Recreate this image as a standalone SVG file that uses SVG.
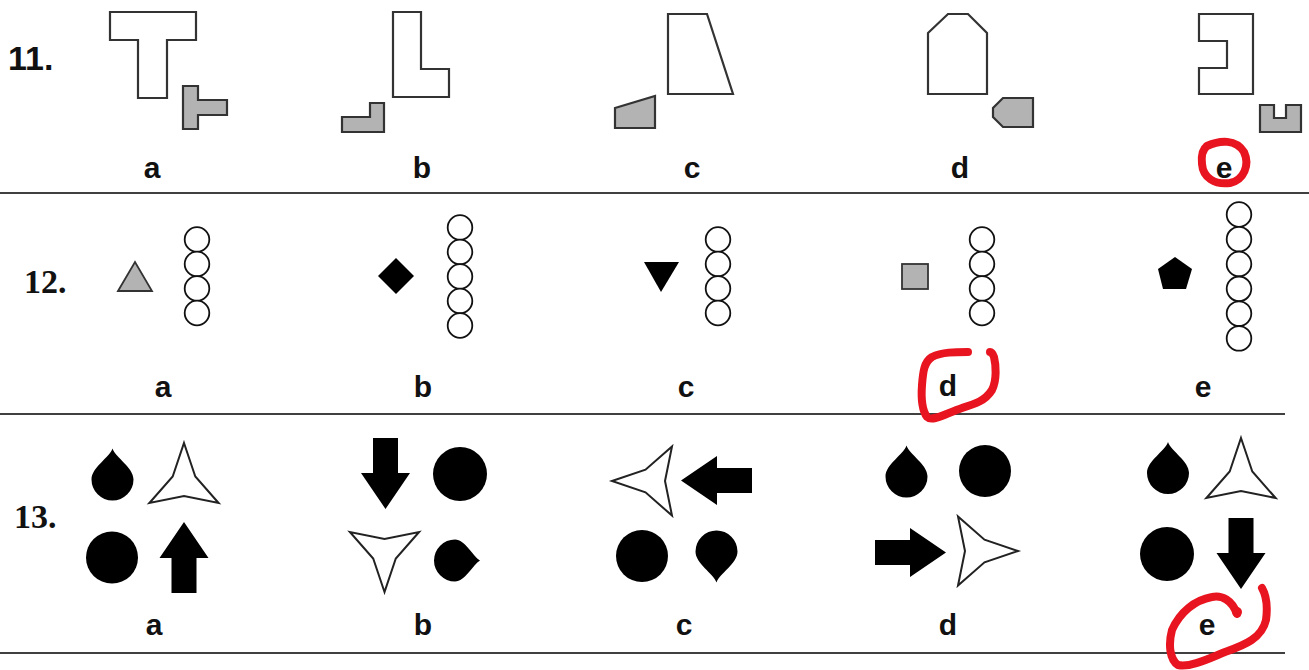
<svg xmlns="http://www.w3.org/2000/svg" xmlns:xlink="http://www.w3.org/1999/xlink" width="1309" height="670" viewBox="0 0 1309 670">
<style>
.num{font-family:"Liberation Serif",serif;font-weight:bold;font-size:34px;fill:#111}
.num2{font-family:"Liberation Sans",sans-serif;font-weight:bold;font-size:34px;fill:#111}
.lbl{font-family:"Liberation Sans",Arial,sans-serif;font-weight:bold;font-size:30px;fill:#111;text-anchor:middle}
.out{fill:#fff;stroke:#333;stroke-width:2.2}
.gry{fill:#b3b3b3;stroke:#333;stroke-width:2.2}
.cir{fill:#fff;stroke:#111;stroke-width:1.8}
.blk{fill:#000}
.star{fill:#fff;stroke:#222;stroke-width:2;stroke-linejoin:miter}
.sep{stroke:#000;stroke-width:1.6}
.red{fill:none;stroke:#e8141f;stroke-width:8;stroke-linecap:round;stroke-linejoin:round}
</style>
<defs>
<path id="drop" d="M0,-31 C3,-22 21,-12 21,0 A21,21 0 1 1 -21,0 C-21,-12 -3,-22 0,-31 Z"/>
<path id="drop2" d="M0,-25 C4,-18 21,-10 21,0 A21,21 0 1 1 -21,0 C-21,-10 -4,-18 0,-25 Z"/>
<path id="star" d="M0,-40 L11.3,-6.5 L34.6,20 L0,13 L-34.6,20 L-11.3,-6.5 Z"/>
<path id="arrow" d="M0,-36 L24.5,0 L12.5,0 L12.5,35 L-12.5,35 L-12.5,0 L-24.5,0 Z"/>
<circle id="c12" r="12.3"/>
</defs>
<rect width="1309" height="670" fill="#fff"/>

<g id="separators">
<line class="sep" x1="0" y1="193" x2="1309" y2="193"/>
<line class="sep" x1="0" y1="414" x2="1285" y2="414"/>
<line class="sep" x1="0" y1="653" x2="1285" y2="653"/>
</g>

<!-- Row 11 -->
<g id="q11">
<text class="num2" x="8" y="70">11.</text>
<g id="q11a">
<path class="out" d="M110,12 H196 V40 H167 V98 H138 V40 H110 Z"/>
<path class="gry" d="M183,86 H198 V100 H227 V115 H198 V129 H183 Z"/>
<text class="lbl" x="152" y="178">a</text>
</g>
<g id="q11b">
<path class="out" d="M393,12 H421 V69 H449 V97 H393 Z"/>
<path class="gry" d="M342,117 H370 V103 H384 V132 H342 Z"/>
<text class="lbl" x="422" y="178">b</text>
</g>
<g id="q11c">
<path class="out" d="M668,14 H707 L733,94 H668 Z"/>
<path class="gry" d="M615,108 L655,96 V128 H615 Z"/>
<text class="lbl" x="692" y="178">c</text>
</g>
<g id="q11d">
<path class="out" d="M928,33 L948,14 H968 L987,33 V94 H928 Z"/>
<path class="gry" d="M1003,98 H1033 V127 H1003 L993,117 V108 Z"/>
<text class="lbl" x="960" y="178">d</text>
</g>
<g id="q11e">
<path class="out" d="M1199,14 H1253 V94 H1199 V68 H1227 V41 H1199 Z"/>
<path class="gry" d="M1260,105 H1274 V118 H1286 V105 H1301 V132 H1260 Z"/>
<text class="lbl" x="1224" y="178">e</text>
<path class="red" d="M1207,146 C1220,140 1236,139 1244,152 C1250,165 1244,180 1230,183 C1215,185 1203,178 1202,164 C1201,155 1203,149 1207,146"/>
</g>
</g>

<!-- Row 12 -->
<g id="q12">
<text class="num" x="24" y="293">12.</text>
<g id="q12a">
<path class="gry" d="M118,291 L135,262 L152,291 Z" style="stroke-width:1.8"/>
<use href="#c12" class="cir" x="197" y="239.5"/>
<use href="#c12" class="cir" x="197" y="264"/>
<use href="#c12" class="cir" x="197" y="288.5"/>
<use href="#c12" class="cir" x="197" y="313"/>
<text class="lbl" x="163" y="397">a</text>
</g>
<g id="q12b">
<path class="blk" d="M396,258 L414,276 L396,294 L378,276 Z"/>
<use href="#c12" class="cir" x="460" y="227.5"/>
<use href="#c12" class="cir" x="460" y="252"/>
<use href="#c12" class="cir" x="460" y="276.5"/>
<use href="#c12" class="cir" x="460" y="301"/>
<use href="#c12" class="cir" x="460" y="325.5"/>
<text class="lbl" x="423" y="397">b</text>
</g>
<g id="q12c">
<path class="blk" d="M644,262 H679 L661,292 Z"/>
<use href="#c12" class="cir" x="718" y="239.5"/>
<use href="#c12" class="cir" x="718" y="264"/>
<use href="#c12" class="cir" x="718" y="288.5"/>
<use href="#c12" class="cir" x="718" y="313"/>
<text class="lbl" x="686" y="397">c</text>
</g>
<g id="q12d">
<rect class="gry" x="902" y="264" width="26" height="25" style="stroke-width:1.8"/>
<use href="#c12" class="cir" x="982" y="239.5"/>
<use href="#c12" class="cir" x="982" y="264"/>
<use href="#c12" class="cir" x="982" y="288.5"/>
<use href="#c12" class="cir" x="982" y="313"/>
<text class="lbl" x="948" y="396">d</text>
<path class="red" d="M968,352 C955,352 942,352 932,357 C924,362 923,372 922,385 C921,398 922,410 927,417 C932,422 945,414 962,408 C975,404 985,401 992,390 C997,380 996,365 994,357 C993,354 991,352 990,352"/>
</g>
<g id="q12e">
<path class="blk" d="M1175,257 L1192,269 L1186,289 H1163 L1158,269 Z"/>
<use href="#c12" class="cir" x="1239" y="214.5"/>
<use href="#c12" class="cir" x="1239" y="239.2"/>
<use href="#c12" class="cir" x="1239" y="264"/>
<use href="#c12" class="cir" x="1239" y="288.8"/>
<use href="#c12" class="cir" x="1239" y="313.6"/>
<use href="#c12" class="cir" x="1239" y="338.4"/>
<text class="lbl" x="1203" y="397">e</text>
</g>
</g>

<!-- Row 13 -->
<g id="q13">
<text class="num" x="14" y="528">13.</text>
<g id="q13a">
<use href="#drop" class="blk" transform="translate(112.5,479.5)"/>
<use href="#star" class="star" transform="translate(184,483)"/>
<circle class="blk" cx="112" cy="557.5" r="26"/>
<use href="#arrow" class="blk" transform="translate(184,558)"/>
<text class="lbl" x="154" y="635">a</text>
</g>
<g id="q13b">
<use href="#arrow" class="blk" transform="translate(385.5,473) rotate(180)"/>
<circle class="blk" cx="460" cy="474" r="27"/>
<use href="#star" class="star" transform="translate(384.5,552) rotate(180)"/>
<use href="#drop2" class="blk" transform="translate(455,560.5) rotate(90)"/>
<text class="lbl" x="423" y="635">b</text>
</g>
<g id="q13c">
<use href="#star" class="star" transform="translate(652,481) rotate(-90)"/>
<use href="#arrow" class="blk" transform="translate(717,480.5) rotate(-90)"/>
<circle class="blk" cx="642" cy="556" r="26"/>
<use href="#drop" class="blk" transform="translate(716.5,551.5) rotate(180)"/>
<text class="lbl" x="684" y="635">c</text>
</g>
<g id="q13d">
<use href="#drop" class="blk" transform="translate(906.5,476.5)"/>
<circle class="blk" cx="985" cy="471" r="26"/>
<use href="#arrow" class="blk" transform="translate(910,552.5) rotate(90)"/>
<use href="#star" class="star" transform="translate(978,551) rotate(90)"/>
<text class="lbl" x="948" y="635">d</text>
</g>
<g id="q13e">
<use href="#drop" class="blk" transform="translate(1168,473)"/>
<use href="#star" class="star" transform="translate(1241,478)"/>
<circle class="blk" cx="1167" cy="554" r="27"/>
<use href="#arrow" class="blk" transform="translate(1241,553) rotate(180)"/>
<text class="lbl" x="1207" y="635">e</text>
<path class="red" d="M1237,614 C1232,600 1222,595 1212,597 C1195,600 1180,612 1172,630 C1168,645 1170,660 1178,665 C1190,668 1210,658 1225,652 C1245,645 1262,638 1266,620 C1268,605 1266,595 1262,588"/>
<circle cx="1237" cy="612" r="5" fill="#e8141f"/>
</g>
</g>
</svg>
